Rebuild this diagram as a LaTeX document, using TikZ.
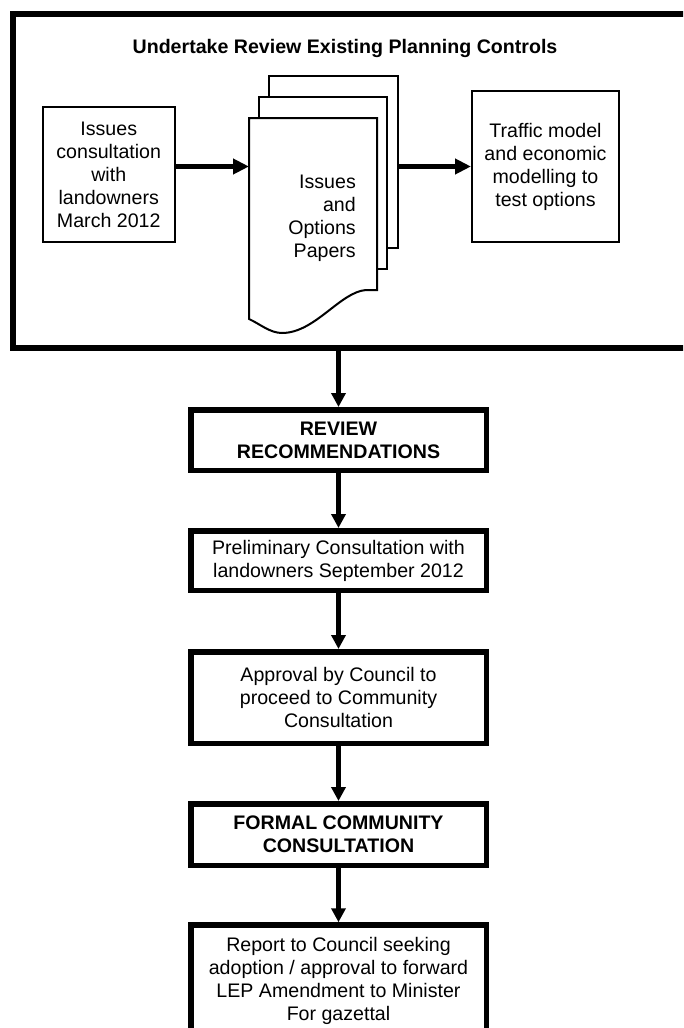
\documentclass[tikz,border=0pt]{standalone}
\usepackage{fontspec}
\setmainfont{Liberation Sans}
\usetikzlibrary{arrows.meta}
\begin{document}
\begin{tikzpicture}[x=1pt,y=-1pt,
  txt/.style={font=\fontsize{19.6}{23}\selectfont},
  boldtxt/.style={font=\bfseries\fontsize{19.6}{23}\selectfont},
  every node/.style={txt},
  thinbox/.style={draw, line width=2pt, inner sep=0pt, align=center},
  sheet/.style={draw, line width=2pt, fill=white, inner sep=0pt, outer sep=0pt},
  stepbox/.style={draw, line width=5.5pt, minimum width=295.5pt, inner sep=0pt, align=center},
  harrow/.style={line width=5.5pt, -{Triangle[length=16pt,width=15pt]}},
  varrow/.style={line width=5.5pt, -{Triangle[length=14pt,width=14pt]}}
]
\useasboundingbox (0,0) rectangle (683,1028);
\clip (0,0) rectangle (683,1028);

% outer frame
\node[draw, line width=6pt, minimum width=687.5pt, minimum height=334pt, inner sep=0pt] (frame) at (356.25,181) {};
\node[boldtxt] (title) at (345,48) {Undertake Review Existing Planning Controls};

% left and right boxes
\node[thinbox, minimum width=131.5pt, minimum height=135pt] (issues) at (108.75,174.5)
  {Issues\\consultation\\with\\landowners\\March 2012};
\node[thinbox, minimum width=147pt, minimum height=151pt] (traffic) at (545.5,166.5)
  {Traffic model\\and economic\\modelling to\\test options};

% stacked papers
\node[sheet, minimum width=129pt, minimum height=172pt] (back) at (333.5,162) {};
\node[sheet, minimum width=128pt, minimum height=172pt] (middle) at (323,183) {};
\node[inner sep=0pt, outer sep=0pt, minimum width=128pt, minimum height=172pt] (front) at (313,204) {};
\draw[line width=2pt, fill=white] (front.north west) -- (front.north east) -- (front.south east)
  -- ++(-11,0) .. controls +(-26,2) and +(33,0) .. (282,333)
  .. controls +(-12,0) and +(11,5) .. (249,319) -- cycle;
\node[inner sep=0pt, align=right, anchor=east] (paperstext) at (356,218.5)
  {Issues\\and\\Options\\Papers};

% horizontal arrows
\draw[harrow] (issues.east |- traffic.west) -- (front.west |- traffic.west);
\draw[harrow] (back.east |- traffic.west) -- (traffic.west);

% lower chain
\node[stepbox, boldtxt, minimum height=60.5pt] (review) at (338.5,440) {REVIEW\\RECOMMENDATIONS};
\node[stepbox, minimum height=59.5pt] (prelim) at (338.5,560.5) {Preliminary Consultation with\\landowners September 2012};
\node[stepbox, minimum height=91.5pt] (approval) at (338.5,697.5) {Approval by Council to\\proceed to Community\\Consultation};
\node[stepbox, boldtxt, minimum height=61.5pt] (formal) at (338.5,834.5) {FORMAL COMMUNITY\\CONSULTATION};
\node[stepbox, minimum height=112pt] (report) at (338.5,981) {Report to Council seeking\\adoption / approval to forward\\LEP Amendment to Minister\\For gazettal};

\draw[varrow] (frame.south -| review.north) -- (review.north);
\draw[varrow] (review.south) -- (prelim.north);
\draw[varrow] (prelim.south) -- (approval.north);
\draw[varrow] (approval.south) -- (formal.north);
\draw[varrow] (formal.south) -- (report.north);
\end{tikzpicture}
\end{document}
